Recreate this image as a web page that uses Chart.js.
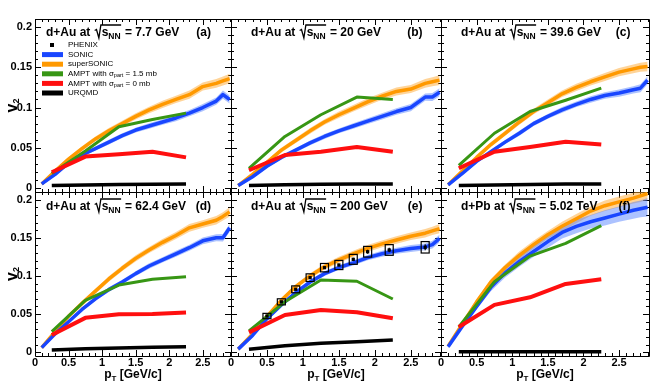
<!DOCTYPE html>
<html><head><meta charset="utf-8">
<script src="https://cdn.jsdelivr.net/npm/chart.js@4/dist/chart.umd.min.js"></script>
<style>
html,body{margin:0;padding:0;background:#fff;}
#wrap{position:relative;width:670px;height:385px;overflow:hidden;background:#fff;}
#wrap canvas{position:absolute;left:0;top:0;}
</style></head><body><div id="wrap"></div>
<script>
// ---------- data ----------
const PT = [0.1,0.3,0.5,0.7,0.9,1.1,1.3,1.5,1.7,1.9,2.1,2.3,2.5,2.7,2.8,2.9];
const AMPT_PT = [0.25,0.75,1.25,1.75,2.25];

const SONIC_A = [0.005,0.017,0.031,0.041,0.049,0.057,0.065,0.072,0.077,0.082,0.087,0.093,0.100,0.108,0.116,0.110];
const SUPER_A = [0.005,0.021,0.036,0.049,0.061,0.071,0.080,0.089,0.097,0.104,0.110,0.116,0.126,0.130,0.133,0.136];
const SONIC_B = [0.003,0.014,0.027,0.038,0.047,0.056,0.064,0.071,0.077,0.083,0.089,0.095,0.100,0.113,0.113,0.119];
const SUPER_B = [0.003,0.017,0.032,0.047,0.059,0.071,0.082,0.091,0.099,0.107,0.114,0.120,0.123,0.130,0.132,0.134];
const SONIC_C = [0.004,0.018,0.033,0.045,0.057,0.068,0.080,0.089,0.097,0.104,0.110,0.115,0.118,0.122,0.124,0.134];
const SUPER_C = [0.004,0.021,0.038,0.054,0.068,0.082,0.095,0.106,0.117,0.125,0.132,0.138,0.144,0.148,0.150,0.151];
const SONIC_D = [0.006,0.024,0.040,0.056,0.070,0.082,0.092,0.103,0.113,0.121,0.129,0.137,0.146,0.150,0.150,0.163];
const SUPER_D = [0.006,0.027,0.047,0.064,0.080,0.096,0.110,0.123,0.134,0.144,0.153,0.163,0.168,0.173,0.178,0.184];
const SONIC_E = [0.004,0.022,0.044,0.062,0.078,0.092,0.103,0.111,0.117,0.124,0.129,0.133,0.136,0.138,0.141,0.149];
const SUPER_E = [0.004,0.024,0.047,0.068,0.086,0.100,0.112,0.121,0.129,0.136,0.142,0.147,0.152,0.156,0.159,0.162];
const SONIC_F = [0.007,0.034,0.060,0.085,0.104,0.119,0.132,0.145,0.157,0.165,0.171,0.176,0.181,0.186,0.188,0.190];
const SUPER_F = [0.008,0.037,0.066,0.092,0.111,0.127,0.141,0.154,0.165,0.175,0.185,0.192,0.197,0.202,0.205,0.208];

const SONIC_ERR   = [0.002,0.002,0.002,0.0025,0.0025,0.003,0.003,0.003,0.0035,0.0035,0.004,0.004,0.0045,0.0045,0.005,0.005];
const SUPER_ERR   = [0.002,0.002,0.0025,0.003,0.003,0.0035,0.0035,0.004,0.004,0.0045,0.0045,0.005,0.005,0.0055,0.0055,0.006];
const SONIC_ERR_F = [0.002,0.003,0.004,0.005,0.006,0.007,0.007,0.008,0.008,0.009,0.009,0.010,0.010,0.011,0.011,0.012];
const SUPER_ERR_F = [0.002,0.003,0.003,0.004,0.004,0.005,0.005,0.005,0.006,0.006,0.006,0.007,0.007,0.007,0.008,0.008];

const AMPT15_A = [0.018,0.046,0.076,0.085,0.093];
const AMPT15_B = [0.0245,0.064,0.091,0.113,0.110];
const AMPT15_C = [0.028,0.068,0.095,0.109,0.124];
const AMPT15_D = [0.027,0.068,0.088,0.0955,0.099];
const AMPT15_E = [0.028,0.066,0.0946,0.093,0.0697];
const AMPT15_F = [0.033,0.0924,0.126,0.1427,0.166];

const AMPT0_A = [0.0195,0.039,0.042,0.045,0.038];
const AMPT0_B = [0.022,0.041,0.045,0.051,0.045];
const AMPT0_C = [0.0245,0.045,0.051,0.0575,0.054];
const AMPT0_D = [0.0225,0.045,0.0497,0.050,0.052];
const AMPT0_E = [0.026,0.0488,0.0553,0.0523,0.0444];
const AMPT0_F = [0.033,0.062,0.072,0.0894,0.0955];

const URQMD_A = [0.003,0.0038,0.0043,0.0047,0.005];
const URQMD_B = [0.003,0.004,0.0047,0.005,0.005];
const URQMD_C = [0.003,0.0038,0.0044,0.0048,0.005];
const URQMD_D = [0.003,0.0045,0.0056,0.0064,0.007];
const URQMD_E = [0.004,0.0085,0.0117,0.0138,0.016];
const URQMD_F = [0.0005,0.0005,0.0005,0.0005,0.0005];

const PHENIX_PT   = [0.5,0.7,0.9,1.1,1.3,1.5,1.7,1.9,2.2,2.7];
const PHENIX_V2   = [0.0474,0.066,0.0824,0.0977,0.1108,0.1143,0.1217,0.1317,0.134,0.1375];
const PHENIX_SYS  = [0.0035,0.004,0.0045,0.005,0.0055,0.006,0.0065,0.007,0.007,0.0075];
const PHENIX_STAT = [0.0008,0.0008,0.001,0.001,0.0012,0.0015,0.002,0.0025,0.003,0.004];

const X_TICKS = [0,0.5,1,1.5,2,2.5];
const X_TICK_LABELS = ['0','0.5','1','1.5','2','2.5'];
const Y_TICKS = [0,0.05,0.1,0.15,0.2];
const Y_TICK_LABELS = ['0','0.05','0.1','0.15','0.2'];
const X_MIN = 0, X_MAX = 2.92, Y_MIN = -0.005, Y_MAX = 0.21;

const LEGEND_LABELS = ['PHENIX','SONIC','superSONIC','AMPT with |σ|part| = 1.5 mb','AMPT with |σ|part| = 0 mb','URQMD'];

// ---------- style ----------
const FONT = '"Liberation Sans", Arial, Helvetica, sans-serif';
const BLUE = 'rgb(25,70,255)', BLUE_BAND = 'rgba(70,120,255,0.45)';
const ORANGE = 'rgb(255,153,0)', ORANGE_BAND = 'rgba(255,170,50,0.5)';
const GREEN = 'rgb(55,150,20)', RED = 'rgb(255,15,15)', BLACK = '#000';

const PANELS = [
 {tag:'a', sys:'d+Au', energy:'7.7 GeV',  col:0,row:0, frame:[35,19,231,192],  sonic:SONIC_A, sonicErr:SONIC_ERR, sup:SUPER_A, supErr:SUPER_ERR, a15:AMPT15_A, a0:AMPT0_A, uq:URQMD_A},
 {tag:'b', sys:'d+Au', energy:'20 GeV',   col:1,row:0, frame:[231,19,441,192], sonic:SONIC_B, sonicErr:SONIC_ERR, sup:SUPER_B, supErr:SUPER_ERR, a15:AMPT15_B, a0:AMPT0_B, uq:URQMD_B},
 {tag:'c', sys:'d+Au', energy:'39.6 GeV', col:2,row:0, frame:[441,19,649,192], sonic:SONIC_C, sonicErr:SONIC_ERR, sup:SUPER_C, supErr:SUPER_ERR, a15:AMPT15_C, a0:AMPT0_C, uq:URQMD_C},
 {tag:'d', sys:'d+Au', energy:'62.4 GeV', col:0,row:1, frame:[35,192,231,356],  sonic:SONIC_D, sonicErr:SONIC_ERR, sup:SUPER_D, supErr:SUPER_ERR, a15:AMPT15_D, a0:AMPT0_D, uq:URQMD_D},
 {tag:'e', sys:'d+Au', energy:'200 GeV',  col:1,row:1, frame:[231,192,441,356], sonic:SONIC_E, sonicErr:SONIC_ERR, sup:SUPER_E, supErr:SUPER_ERR, a15:AMPT15_E, a0:AMPT0_E, uq:URQMD_E, phenix:true},
 {tag:'f', sys:'d+Pb', energy:'5.02 TeV', col:2,row:1, frame:[441,192,649,356], sonic:SONIC_F, sonicErr:SONIC_ERR_F, sup:SUPER_F, supErr:SUPER_ERR_F, a15:AMPT15_F, a0:AMPT0_F, uq:URQMD_F}
];

// ---------- helpers ----------
function rich(ctx, x, y, parts){
  for (const [t,f,dy] of parts){ ctx.font=f; ctx.fillText(t, x, y+(dy||0)); x += ctx.measureText(t).width; }
  return x;
}
function richWidth(ctx, parts){
  let w=0; for (const [t,f] of parts){ ctx.font=f; w+=ctx.measureText(t).width; } return w;
}

const frameTicks = {
  id:'frameTicks',
  beforeDatasetsDraw(chart){
    const {ctx, chartArea:{left,right,top,bottom}, scales:{x,y}} = chart;
    ctx.save();
    ctx.strokeStyle='#000'; ctx.lineWidth=1;
    ctx.beginPath();
    ctx.rect(Math.round(left)+0.5, Math.round(top)+0.5, Math.round(right-left), Math.round(bottom-top));
    ctx.stroke();
    ctx.beginPath();
    for (let i=0;i<=29;i++){
      const v=i/10; if (v>x.max) break;
      const px=Math.round(x.getPixelForValue(v))+0.5, L=(i%5===0)?6:3;
      ctx.moveTo(px,bottom); ctx.lineTo(px,bottom-L);
      ctx.moveTo(px,top); ctx.lineTo(px,top+L);
    }
    for (let i=0;i<=21;i++){
      const v=i/100; if (v>y.max) break;
      const py=Math.round(y.getPixelForValue(v))+0.5, L=(i%5===0)?6:3;
      ctx.moveTo(left,py); ctx.lineTo(left+L,py);
      ctx.moveTo(right,py); ctx.lineTo(right-L,py);
    }
    ctx.stroke();
    ctx.restore();
  }
};

const phenixBoxes = {
  id:'phenixBoxes',
  afterDatasetsDraw(chart, args, opts){
    if (!opts.on) return;
    const {ctx, scales:{x,y}} = chart;
    ctx.save(); ctx.strokeStyle='#000'; ctx.lineWidth=1.2;
    PHENIX_PT.forEach((p,i)=>{
      const px=x.getPixelForValue(p), v=PHENIX_V2[i];
      const y1=y.getPixelForValue(v+PHENIX_SYS[i]), y2=y.getPixelForValue(v-PHENIX_SYS[i]);
      ctx.strokeRect(px-4, y1, 8, y2-y1);
      const s1=y.getPixelForValue(v+PHENIX_STAT[i]), s2=y.getPixelForValue(v-PHENIX_STAT[i]);
      ctx.beginPath(); ctx.moveTo(px,s1); ctx.lineTo(px,s2); ctx.stroke();
    });
    ctx.restore();
  }
};

function drawTitle(ctx, p, area){
  const x = area.left + (p.col===0?11:20);
  const yb = area.top + (p.row===0?16.5:17.5);
  const B12 = 'bold 12px '+FONT;
  ctx.save(); ctx.fillStyle='#000'; ctx.strokeStyle='#000'; ctx.textBaseline='alphabetic'; ctx.textAlign='left';
  ctx.font=B12;
  const s1 = p.sys+' at ';
  ctx.fillText(s1, x, yb);
  const cx = x + ctx.measureText(s1).width + 1;
  const sx = cx + 7;
  let ex = rich(ctx, sx, yb, [['s',B12,0],['NN','bold 8.5px '+FONT,3]]);
  const topY = yb - 10.5;
  ctx.lineWidth=1.3; ctx.lineJoin='miter';
  ctx.beginPath();
  ctx.moveTo(cx, yb-5); ctx.lineTo(cx+1.8, yb-6); ctx.lineTo(cx+4.2, yb+2.5); ctx.lineTo(cx+6.2, topY); ctx.lineTo(ex+0.5, topY);
  ctx.stroke();
  ctx.font=B12;
  ctx.fillText(' = '+p.energy, ex+1, yb);
  ctx.textAlign='right';
  ctx.fillText('('+p.tag+')', area.right - (p.col===0?20:18.5), yb);
  ctx.restore();
}

function drawLegend(ctx){
  const F='8px '+FONT, FS='5.5px '+FONT;
  const colors=[null,BLUE,ORANGE,GREEN,RED,BLACK];
  ctx.save(); ctx.textBaseline='middle'; ctx.fillStyle='#000';
  LEGEND_LABELS.forEach((lab,i)=>{
    const yc = 45 + i*9.6;
    if (i===0){ ctx.fillStyle='#000'; ctx.fillRect(50,yc-2,4,4); }
    else { ctx.strokeStyle=colors[i]; ctx.lineWidth=5; ctx.lineCap='butt'; ctx.beginPath(); ctx.moveTo(42,yc); ctx.lineTo(63,yc); ctx.stroke(); }
    ctx.fillStyle='#000';
    const segs = lab.split('|');
    if (segs.length===1) rich(ctx,68,yc,[[lab,F,0]]);
    else rich(ctx,68,yc,[[segs[0],F,0],[segs[1],F,0],[segs[2],FS,2],[segs[3],F,0]]);
  });
  ctx.restore();
}

function drawAxisTitles(ctx, p, area){
  ctx.save(); ctx.fillStyle='#000'; ctx.textBaseline='alphabetic'; ctx.textAlign='left';
  if (p.col===0){
    const parts=[['v','bold 16px '+FONT,0],['2','bold 9px '+FONT,2]];
    const w=richWidth(ctx,parts);
    const cy=(area.top+area.bottom)/2;
    ctx.translate(16.5, cy); ctx.rotate(-Math.PI/2);
    rich(ctx,-w/2,0,parts);
    ctx.setTransform(1,0,0,1,0,0);
  }
  if (p.row===1){
    const parts=[['p','bold 12px '+FONT,0],['T','bold 8px '+FONT,3],[' [GeV/c]','bold 12px '+FONT,0]];
    const w=richWidth(ctx,parts);
    const cx=(area.left+area.right)/2;
    rich(ctx,cx-w/2,378,parts);
  }
  ctx.restore();
}

const annot = {
  id:'annot',
  afterDraw(chart, args, opts){
    const p=opts.panel; if(!p) return;
    const ctx=chart.ctx, area=chart.chartArea;
    drawTitle(ctx,p,area);
    if (p.tag==='a') drawLegend(ctx);
    drawAxisTitles(ctx,p,area);
  }
};

// ---------- build ----------
const wrap=document.getElementById('wrap');
const pts=(xs,ys,err,sign)=>xs.map((x,i)=>({x, y: ys[i] + (err? sign*err[i] : 0)}));

PANELS.forEach(p=>{
  const cv=document.createElement('canvas');
  cv.width=670; cv.height=385; cv.style.width='670px'; cv.style.height='385px';
  wrap.appendChild(cv);
  const [l,t,r,b]=p.frame;
  const line=(data,color,w,order)=>({data,borderColor:color,borderWidth:w,pointRadius:0,fill:false,tension:0,order,borderJoinStyle:'round',borderCapStyle:'butt'});
  const ds=[
    {data:pts(PT,p.sup,p.supErr,1), borderWidth:0, pointRadius:0, fill:'+1', backgroundColor:ORANGE_BAND, order:30},
    {data:pts(PT,p.sup,p.supErr,-1), borderWidth:0, pointRadius:0, fill:false, order:29},
    {data:pts(PT,p.sonic,p.sonicErr,1), borderWidth:0, pointRadius:0, fill:'+1', backgroundColor:BLUE_BAND, order:28},
    {data:pts(PT,p.sonic,p.sonicErr,-1), borderWidth:0, pointRadius:0, fill:false, order:27},
    line(pts(PT,p.sup),ORANGE,3.5,20),
    line(pts(PT,p.sonic),BLUE,3.5,19),
    line(pts(AMPT_PT,p.a15),GREEN,3,18),
    line(pts(AMPT_PT,p.a0),RED,4,17),
    line(pts(AMPT_PT,p.uq),BLACK,3.5,16)
  ];
  if (p.phenix){
    ds.push({type:'scatter', data:pts(PHENIX_PT,PHENIX_V2), pointStyle:'rect', pointRadius:2.3, backgroundColor:'#000', borderColor:'#000', borderWidth:0, showLine:false, order:5});
  }
  const showY = p.col===0, showX = p.row===1;
  new Chart(cv,{
    type:'line',
    data:{datasets:ds},
    options:{
      responsive:false, animation:false, devicePixelRatio:1,
      layout:{padding:{left: showY?0:l, top:t, right:670-r, bottom: showX ? (385-b-20) : (385-b)}},
      plugins:{legend:{display:false}, tooltip:{enabled:false}, title:{display:false},
               annot:{panel:p}, phenixBoxes:{on:!!p.phenix}},
      scales:{
        x:{type:'linear', min:X_MIN, max:X_MAX, display:showX,
           grid:{display:false, drawTicks:false, tickLength:0}, border:{display:false},
           afterBuildTicks:s=>{s.ticks=X_TICKS.map(v=>({value:v}));},
           afterFit:s=>{s.height=showX?20:0;},
           ticks:{autoSkip:false, maxRotation:0, padding:0, color:'#000',
                  font:{family:FONT,size:11,weight:'bold'},
                  callback:v=>X_TICK_LABELS[X_TICKS.indexOf(v)]}},
        y:{type:'linear', min:Y_MIN, max:Y_MAX, display:showY,
           grid:{display:false, drawTicks:false, tickLength:0}, border:{display:false},
           afterBuildTicks:s=>{s.ticks=Y_TICKS.map(v=>({value:v}));},
           afterFit:s=>{s.width=showY?l:0;},
           ticks:{autoSkip:false, padding:3, color:'#000',
                  font:{family:FONT,size:11,weight:'bold'},
                  callback:v=>Y_TICK_LABELS[Y_TICKS.indexOf(v)]}}
      }
    },
    plugins:[frameTicks, phenixBoxes, annot]
  });
});
</script></body></html>
